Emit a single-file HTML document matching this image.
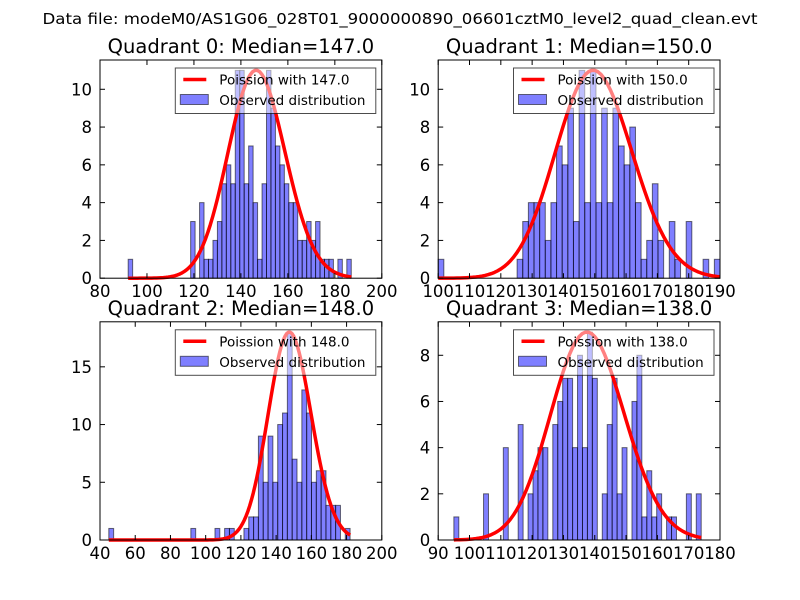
<!DOCTYPE html>
<html><head><meta charset="utf-8"><style>
html,body{margin:0;padding:0;background:#fff;}
svg{display:block;font-family:"DejaVu Sans","Liberation Sans",sans-serif;}
</style></head><body>
<svg id="fig" width="800" height="600" viewBox="0 0 800 600" xmlns="http://www.w3.org/2000/svg">
<rect x="0" y="0" width="800" height="600" fill="#fff"/>
<text x="400" y="24" font-size="15.5" text-anchor="middle" textLength="715" lengthAdjust="spacingAndGlyphs">Data file: modeM0/AS1G06_028T01_9000000890_06601cztM0_level2_quad_clean.evt</text>
</svg>
<script>
const medians = [147, 150, 148, 138];
const binMin = [92, 100, 45, 95];
const binMax = [187, 190, 182, 174];
const xTicks0 = [80,100,120,140,160,180,200];
const xTicks1 = [100,110,120,130,140,150,160,170,180,190];
const xTicks2 = [40,60,80,100,120,140,160,180,200];
const xTicks3 = [90,100,110,120,130,140,150,160,170,180];
const yTicks0 = [0,2,4,6,8,10];
const yTicks1 = [0,2,4,6,8,10];
const yTicks2 = [0,5,10,15];
const yTicks3 = [0,2,4,6,8];
const counts0 = [1,0,0,0,0,0,0,0,0,0, 0,0,0,0,3,0,4,1,1,2, 3,5,6,5,11,11,5,7,4,1, 5,11,9,7,6,5,4,4,2,2, 3,2,3,1,1,1,0,1,0,1];
const counts1 = [1,0,0,0,0,0,0,0,0,0, 0,0,0,0,1,3,4,4,4,2, 4,7,6,9,3,11,4,11,4,9, 4,9,7,6,8,4,1,2,5,2, 0,3,1,0,3,0,0,1,0,1];
const counts2 = [1,0,0,0,0,0,0,0,0,0, 0,0,0,0,0,0,0,1,0,0, 0,0,1,0,1,1,0,0,1,2, 2,9,5,9,5,10,11,18,7,5, 13,11,5,6,6,3,3,3,0,1];
const counts3 = [1,0,0,0,0,0,2,0,0,0, 4,0,0,5,0,2,3,4,4,0, 5,6,7,7,4,8,4,9,7,0, 2,5,7,2,4,0,6,8,1,3, 1,2,0,1,1,0,0,2,0,2];

const xTicksAll=[xTicks0,xTicks1,xTicks2,xTicks3];
const yTicksAll=[yTicks0,yTicks1,yTicks2,yTicks3];
const countsAll=[counts0,counts1,counts2,counts3];
const NS="http://www.w3.org/2000/svg";
const svg=document.getElementById('fig');
function mk(tag,attrs,parent){const e=document.createElementNS(NS,tag);for(const k in attrs)e.setAttribute(k,attrs[k]);(parent||svg).appendChild(e);return e;}
function lfact(n){let s=0;for(let i=2;i<=n;i++)s+=Math.log(i);return s;}
function logp(k,mu){return k*Math.log(mu)-mu-lfact(k);}

const AX_W=281.8, AX_H=218.2;
const axX=[100,438.2,100,438.2], axY=[60,60,321.8,321.8];

for(let q=0;q<4;q++){
  const L=axX[q], T=axY[q], R=L+AX_W, B=T+AX_H;
  const xt=xTicksAll[q], yt=yTicksAll[q], c=countsAll[q];
  const xmin=xt[0], xmax=xt[xt.length-1];
  const ymax=Math.max(...c)*1.05;
  const sx=v=>L+(v-xmin)/(xmax-xmin)*AX_W;
  const sy=v=>B-v/ymax*AX_H;
  const g=mk('g',{});
  
  
  const t=mk('text',{x:(L+R)/2,y:T-7,'font-size':19.5,'text-anchor':'middle'},g);
  
  
  t.textContent='Quadrant '+q+': Median='+medians[q].toFixed(1);
  const bw=(binMax[q]-binMin[q])/c.length;
  const bg=mk('g',{},g);
  
  
  c.forEach((v,i)=>{
    if(v<=0)return;
    const x0=sx(binMin[q]+i*bw), x1=sx(binMin[q]+(i+1)*bw);
    const r=mk('rect',{x:x0,y:sy(v),width:x1-x0,height:B-sy(v),fill:'#0000ff','fill-opacity':0.5,stroke:'#000','stroke-opacity':0.55,'stroke-width':1},bg);
    
    
  });
  const mu=medians[q], peak=Math.max(...c), lm=logp(Math.floor(mu),mu);
  let d='';
  for(let k=Math.round(binMin[q]);k<=Math.round(binMax[q]);k++){
    const y=peak*Math.exp(logp(k,mu)-lm);
    d+=(d?'L':'M')+sx(k).toFixed(2)+','+sy(y).toFixed(2);
  }
  const p=mk('path',{d:d,fill:'none',stroke:'#ff0000','stroke-width':3.5,'stroke-linejoin':'round'},g);
  
  
  const fr=mk('rect',{x:L,y:T,width:AX_W,height:AX_H,fill:'none',stroke:'#000','stroke-width':1},g);
  
  
  xt.forEach(v=>{
    const x=sx(v);
    mk('line',{x1:x,y1:B,x2:x,y2:B-5,stroke:'#000'},g);
    mk('line',{x1:x,y1:T,x2:x,y2:T+5,stroke:'#000'},g);
    const tl=mk('text',{x:x,y:B+19,'font-size':16.5,'text-anchor':'middle'},g);
    
    
    tl.textContent=v;
  });
  yt.forEach(v=>{
    const y=sy(v);
    mk('line',{x1:L,y1:y,x2:L+5,y2:y,stroke:'#000'},g);
    mk('line',{x1:R,y1:y,x2:R-5,y2:y,stroke:'#000'},g);
    const tl=mk('text',{x:L-8,y:y+6,'font-size':16.5,'text-anchor':'end'},g);
    
    
    tl.textContent=v;
  });
  const lg=mk('g',{},g);
  
  
  const lx=R-206.5, ly=T+8;
  mk('rect',{x:lx,y:ly,width:200.5,height:45.5,fill:'#fff','fill-opacity':0.5,stroke:'#000','stroke-opacity':0.7,'stroke-width':1},lg);
  mk('line',{x1:lx+8,y1:ly+11.5,x2:lx+31,y2:ly+11.5,stroke:'#ff0000','stroke-width':3.5},lg);
  const t1=mk('text',{x:lx+44,y:ly+16.5,'font-size':13.5},lg);
  
  
  t1.textContent='Poission with '+mu.toFixed(1);
  mk('rect',{x:lx+5,y:ly+26.5,width:28,height:10,fill:'#0000ff','fill-opacity':0.5,stroke:'#000','stroke-opacity':0.55},lg);
  const t2=mk('text',{x:lx+44,y:ly+37,'font-size':13.5},lg);
  
  
  t2.textContent='Observed distribution';
}
</script>
</body></html>
